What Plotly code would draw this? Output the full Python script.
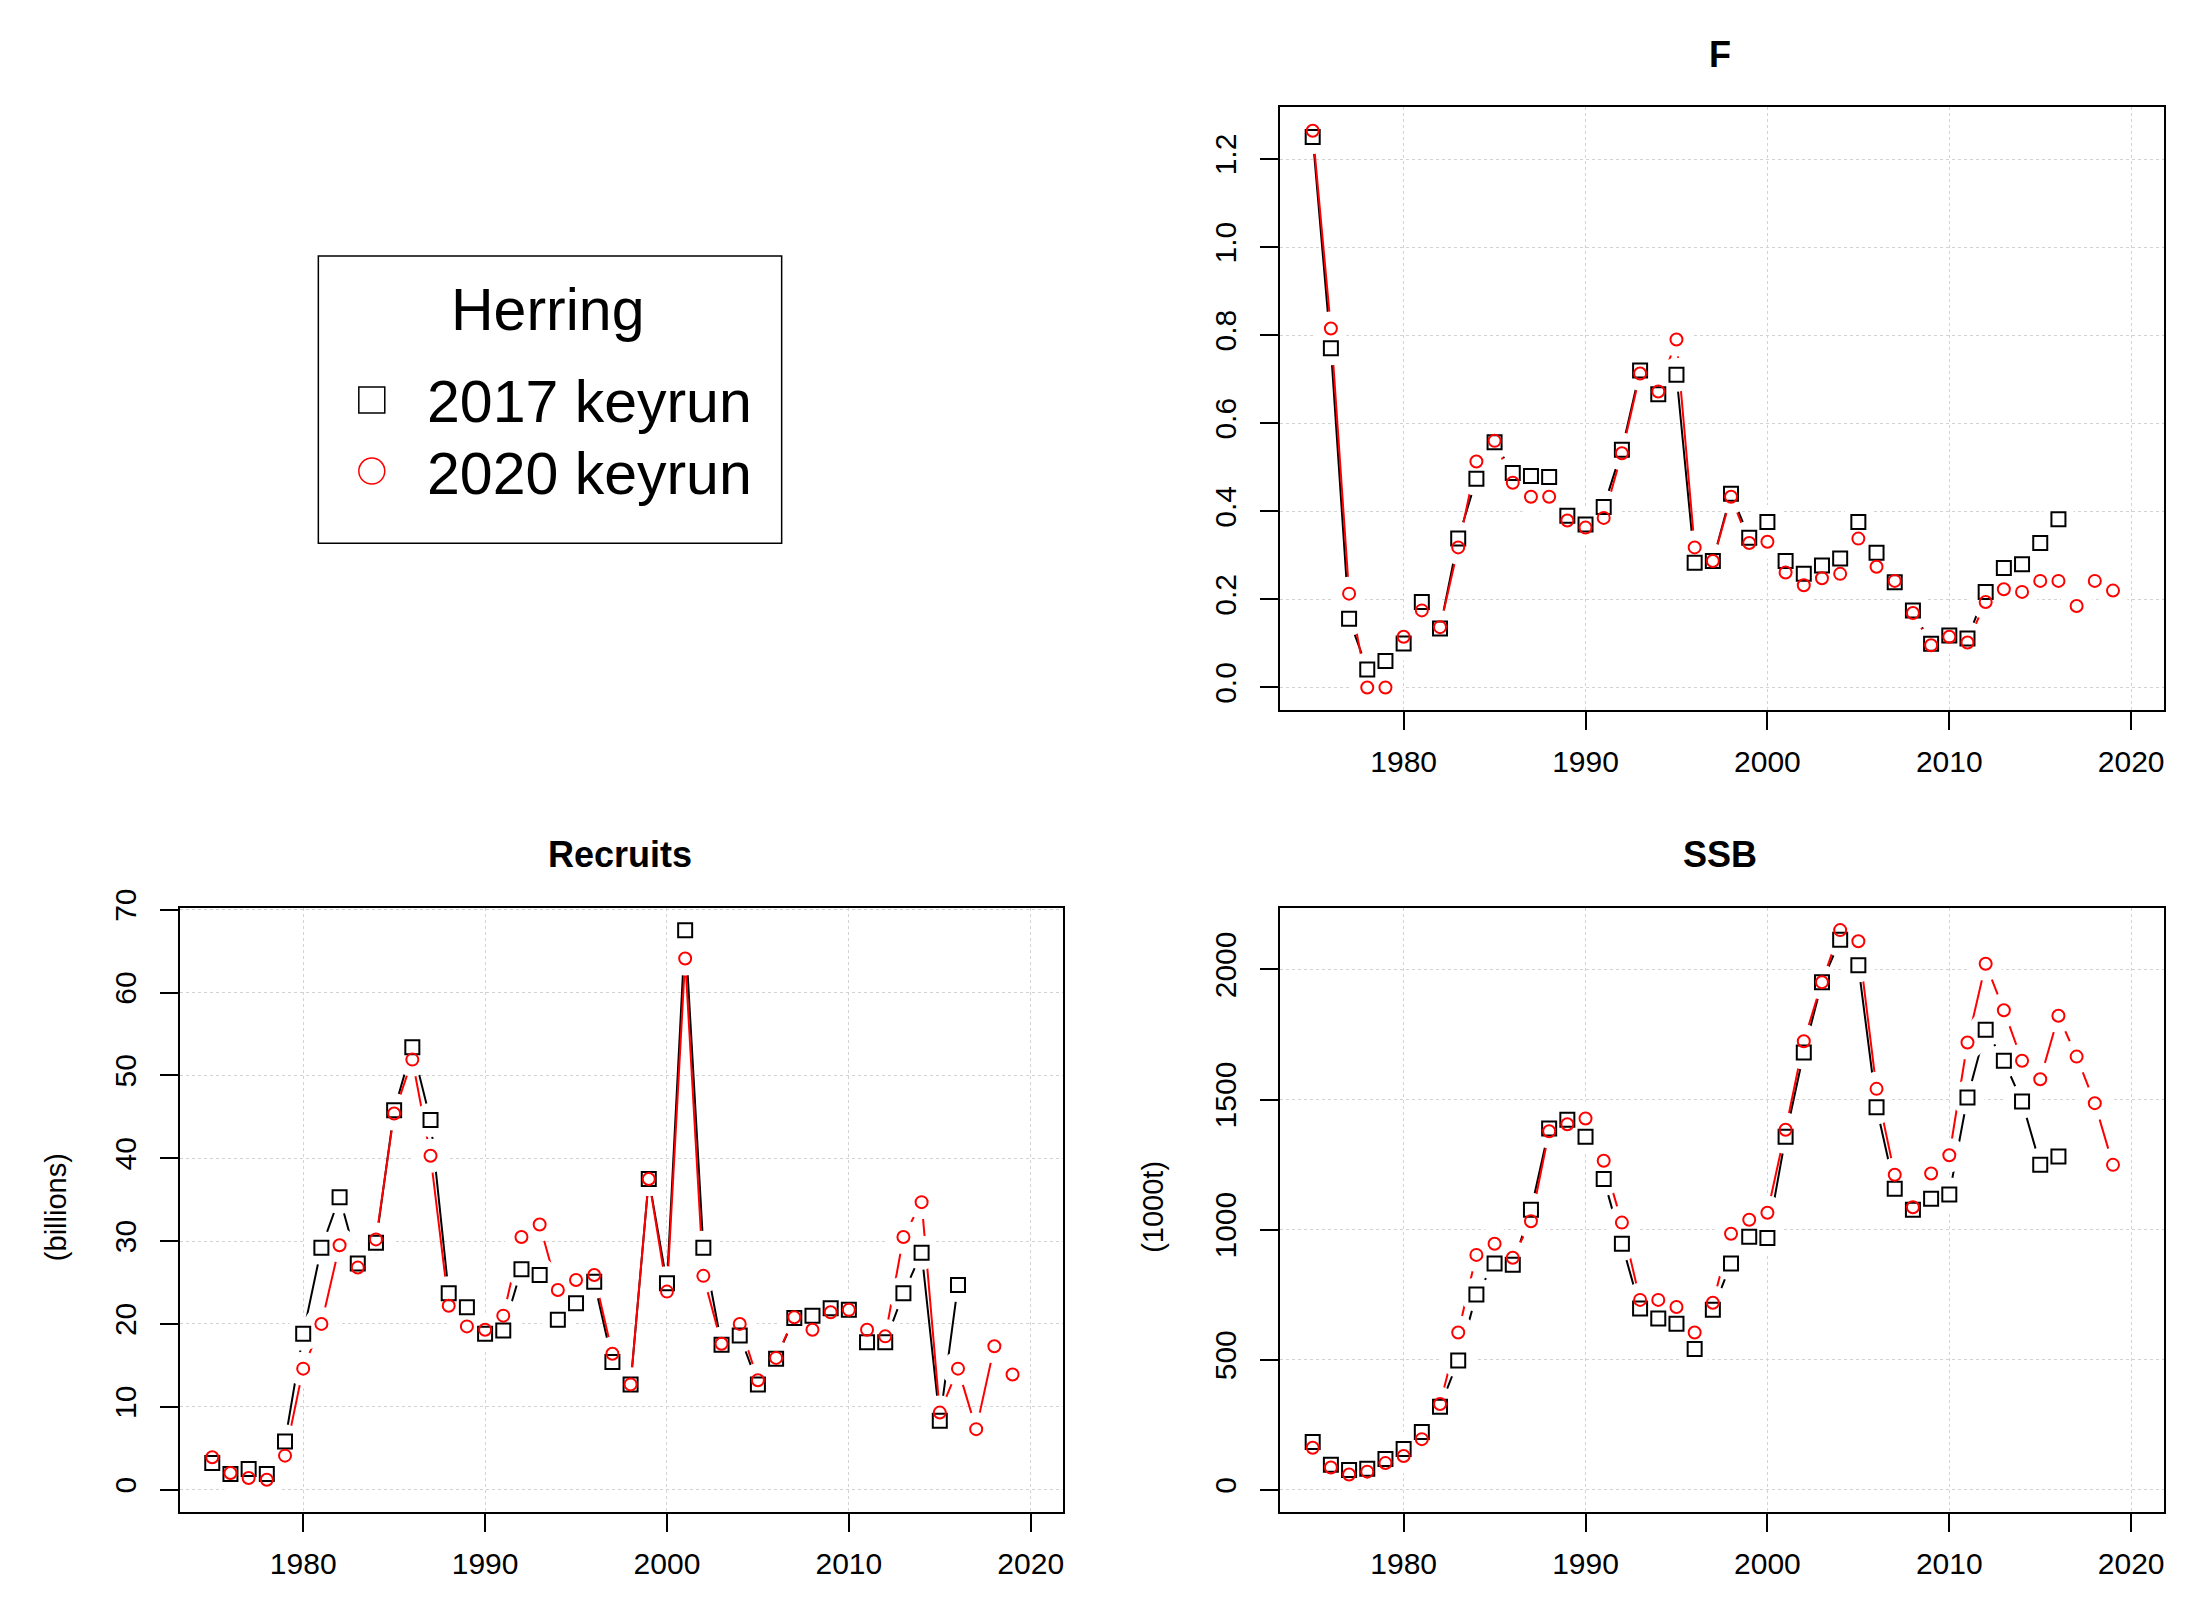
import plotly.graph_objects as go

# Herring keyrun comparison: 2017 vs 2020
years_2017 = list(range(1975, 2017))
years_2020 = list(range(1975, 2020))

f_2017 = [1.25, 0.77, 0.156, 0.041, 0.06, 0.10, 0.194, 0.134, 0.338, 0.474,
          0.557, 0.487, 0.48, 0.478, 0.39, 0.37, 0.41, 0.54, 0.72, 0.666,
          0.71, 0.283, 0.287, 0.44, 0.34, 0.376, 0.287, 0.258, 0.277, 0.293,
          0.376, 0.306, 0.239, 0.175, 0.099, 0.118, 0.111, 0.217, 0.271, 0.28,
          0.328, 0.382]
f_2020 = [1.264, 0.815, 0.213, 0.0, 0.0, 0.115, 0.175, 0.137, 0.318, 0.513,
          0.56, 0.465, 0.433, 0.433, 0.379, 0.363, 0.385, 0.532, 0.713, 0.672,
          0.79, 0.318, 0.287, 0.433, 0.328, 0.331, 0.261, 0.232, 0.248, 0.258,
          0.338, 0.274, 0.242, 0.169, 0.096, 0.115, 0.102, 0.194, 0.223, 0.217,
          0.242, 0.242, 0.185, 0.242, 0.22]

rec_2017 = [3.2, 1.9, 2.5, 1.9, 5.8, 18.8, 29.2, 35.3, 27.3, 29.8,
            45.8, 53.4, 44.6, 23.7, 22.0, 18.8, 19.2, 26.6, 25.9, 20.5,
            22.5, 25.1, 15.4, 12.7, 37.5, 24.9, 67.5, 29.2, 17.5, 18.6,
            12.7, 15.8, 20.7, 21.0, 21.9, 21.7, 17.8, 17.8, 23.7, 28.6,
            8.3, 24.7]
rec_2020 = [3.9, 2.0, 1.4, 1.2, 4.1, 14.6, 20.0, 29.5, 26.8, 30.2,
            45.4, 51.9, 40.3, 22.2, 19.7, 19.3, 21.0, 30.5, 32.0, 24.1,
            25.3, 25.9, 16.4, 12.7, 37.5, 23.9, 64.1, 25.8, 17.6, 20.0,
            13.2, 15.9, 20.8, 19.3, 21.4, 21.7, 19.3, 18.5, 30.5, 34.7,
            9.3, 14.6, 7.3, 17.3, 13.9]

ssb_2017 = [184, 97, 76, 81, 119, 157, 222, 319, 497, 751,
            870, 865, 1076, 1389, 1422, 1357, 1195, 946, 697, 659,
            638, 541, 692, 870, 973, 968, 1357, 1681, 1951, 2114,
            2016, 1470, 1157, 1076, 1119, 1135, 1508, 1768, 1649, 1492,
            1249, 1281]
ssb_2020 = [162, 86, 59, 70, 103, 130, 195, 330, 605, 903,
            946, 892, 1032, 1378, 1405, 1427, 1265, 1027, 730, 730,
            703, 605, 719, 984, 1038, 1065, 1384, 1724, 1951, 2151,
            2108, 1541, 1211, 1086, 1216, 1286, 1719, 2022, 1843, 1649,
            1578, 1822, 1665, 1486, 1249]

x_ticks = [1980, 1990, 2000, 2010, 2020]
f_ticks = [0.0, 0.2, 0.4, 0.6, 0.8, 1.0, 1.2]
rec_ticks = [0, 10, 20, 30, 40, 50, 60, 70]
ssb_ticks = [0, 500, 1000, 1500, 2000]

FONT = "Liberation Sans, Arial, sans-serif"

# the page body has an 8px margin, pull everything back by that much
DX = 8 / 2200
DY = 8 / 1600

panels = [
    # (xaxis, yaxis, y2017, y2020)
    ("x", "y", f_2017, f_2020),
    ("x2", "y2", rec_2017, rec_2020),
    ("x3", "y3", ssb_2017, ssb_2020),
]

fig = go.Figure()
for xa, ya, old, new in panels:
    series = [(years_2017, old, "black", "square-open", 14),
              (years_2020, new, "red", "circle-open", 12)]
    # lines first
    for xs, ys, col, sym, size in series:
        fig.add_trace(go.Scatter(
            x=xs, y=ys, xaxis=xa, yaxis=ya, mode="lines",
            line=dict(color=col, width=2), hoverinfo="skip",
            showlegend=False))
    # white discs break the lines round each point, like R's type="b"
    for xs, ys, col, sym, size in series:
        fig.add_trace(go.Scatter(
            x=xs, y=ys, xaxis=xa, yaxis=ya, mode="markers",
            marker=dict(symbol="circle", size=34, color="white",
                        line=dict(width=0)),
            hoverinfo="skip", showlegend=False))
    for xs, ys, col, sym, size in series:
        fig.add_trace(go.Scatter(
            x=xs, y=ys, xaxis=xa, yaxis=ya, mode="markers",
            marker=dict(symbol=sym, size=size, color=col,
                        line=dict(width=2, color=col)),
            showlegend=False))


def x_axis(domain, anchor):
    return dict(domain=domain, anchor=anchor, range=[1973.2, 2021.8],
                tickvals=x_ticks, ticks="outside", ticklen=18, tickwidth=1.5,
                tickcolor="black", showline=True, mirror=True,
                linecolor="black", linewidth=1.5, showgrid=True,
                gridcolor="#d3d3d3", griddash="dot", gridwidth=1,
                zeroline=False, tickfont=dict(size=30, color="black"),
                ticklabelstandoff=6, automargin=False)


def y_axis(domain, anchor, rng, ticks, fmt=None):
    return dict(domain=domain, anchor=anchor, range=rng, tickvals=ticks,
                tickformat=fmt, tickangle=-90, ticks="outside", ticklen=18,
                tickwidth=1.5, tickcolor="black", showline=True, mirror=True,
                linecolor="black", linewidth=1.5, showgrid=True,
                gridcolor="#d3d3d3", griddash="dot", gridwidth=1,
                zeroline=False, tickfont=dict(size=30, color="black"),
                ticklabelstandoff=12, automargin=False)


top_row = [0.5563 + DY, 0.9331 + DY]
bottom_row = [0.055 + DY, 0.4325 + DY]
right_col = [0.5818 - DX, 0.9836 - DX]
left_col = [0.0816 - DX, 0.4834 - DX]

fig.update_layout(
    width=2200, height=1600,
    margin=dict(l=0, r=0, t=0, b=0),
    paper_bgcolor="white", plot_bgcolor="white",
    font=dict(family=FONT, color="black"),
    xaxis=x_axis(right_col, "y"),
    yaxis=y_axis(top_row, "x", [-0.051, 1.318], f_ticks, ".1f"),
    xaxis2=x_axis(left_col, "y2"),
    yaxis2=y_axis(bottom_row, "x2", [-2.7, 70.2], rec_ticks),
    xaxis3=x_axis(right_col, "y3"),
    yaxis3=y_axis(bottom_row, "x3", [-85, 2236], ssb_ticks),
)

# panel titles and axis labels
notes = [
    ("F", 0.7818, 0.9658, 36, True, 0),
    ("Recruits", 0.2818, 0.466, 36, True, 0),
    ("SSB", 0.7818, 0.466, 36, True, 0),
    ("(billions)", 0.0255, 0.2456, 29, False, -90),
    ("(1000t)", 0.524, 0.2456, 29, False, -90),
]
for text, x, y, size, bold, angle in notes:
    fig.add_annotation(text=f"<b>{text}</b>" if bold else text,
                       x=x - DX, y=y + DY,
                       xref="paper", yref="paper", showarrow=False,
                       textangle=angle, font=dict(size=size, color="black"),
                       xanchor="center", yanchor="middle")

# legend box drawn by hand, R style
fig.add_shape(type="rect", xref="paper", yref="paper",
              x0=0.1447 - DX, x1=0.3553 - DX, y0=0.6604 + DY, y1=0.84 + DY,
              line=dict(color="black", width=1.5))
fig.add_shape(type="rect", xref="paper", yref="paper",
              x0=0.1631 - DX, x1=0.1749 - DX, y0=0.7419 + DY, y1=0.7581 + DY,
              line=dict(color="black", width=1.5))
fig.add_shape(type="circle", xref="paper", yref="paper",
              x0=0.1631 - DX, x1=0.1749 - DX, y0=0.6975 + DY, y1=0.7137 + DY,
              line=dict(color="red", width=1.5))
fig.add_annotation(text="Herring", x=0.249 - DX, y=0.806 + DY, xref="paper",
                   yref="paper", showarrow=False, xanchor="center",
                   yanchor="middle", font=dict(size=59, color="black"))
for text, y in [("2017 keyrun", 0.749), ("2020 keyrun", 0.704)]:
    fig.add_annotation(text=text, x=0.193 - DX, y=y + DY, xref="paper",
                       yref="paper", showarrow=False, xanchor="left",
                       yanchor="middle", font=dict(size=59, color="black"))

fig.write_html("out.html")
